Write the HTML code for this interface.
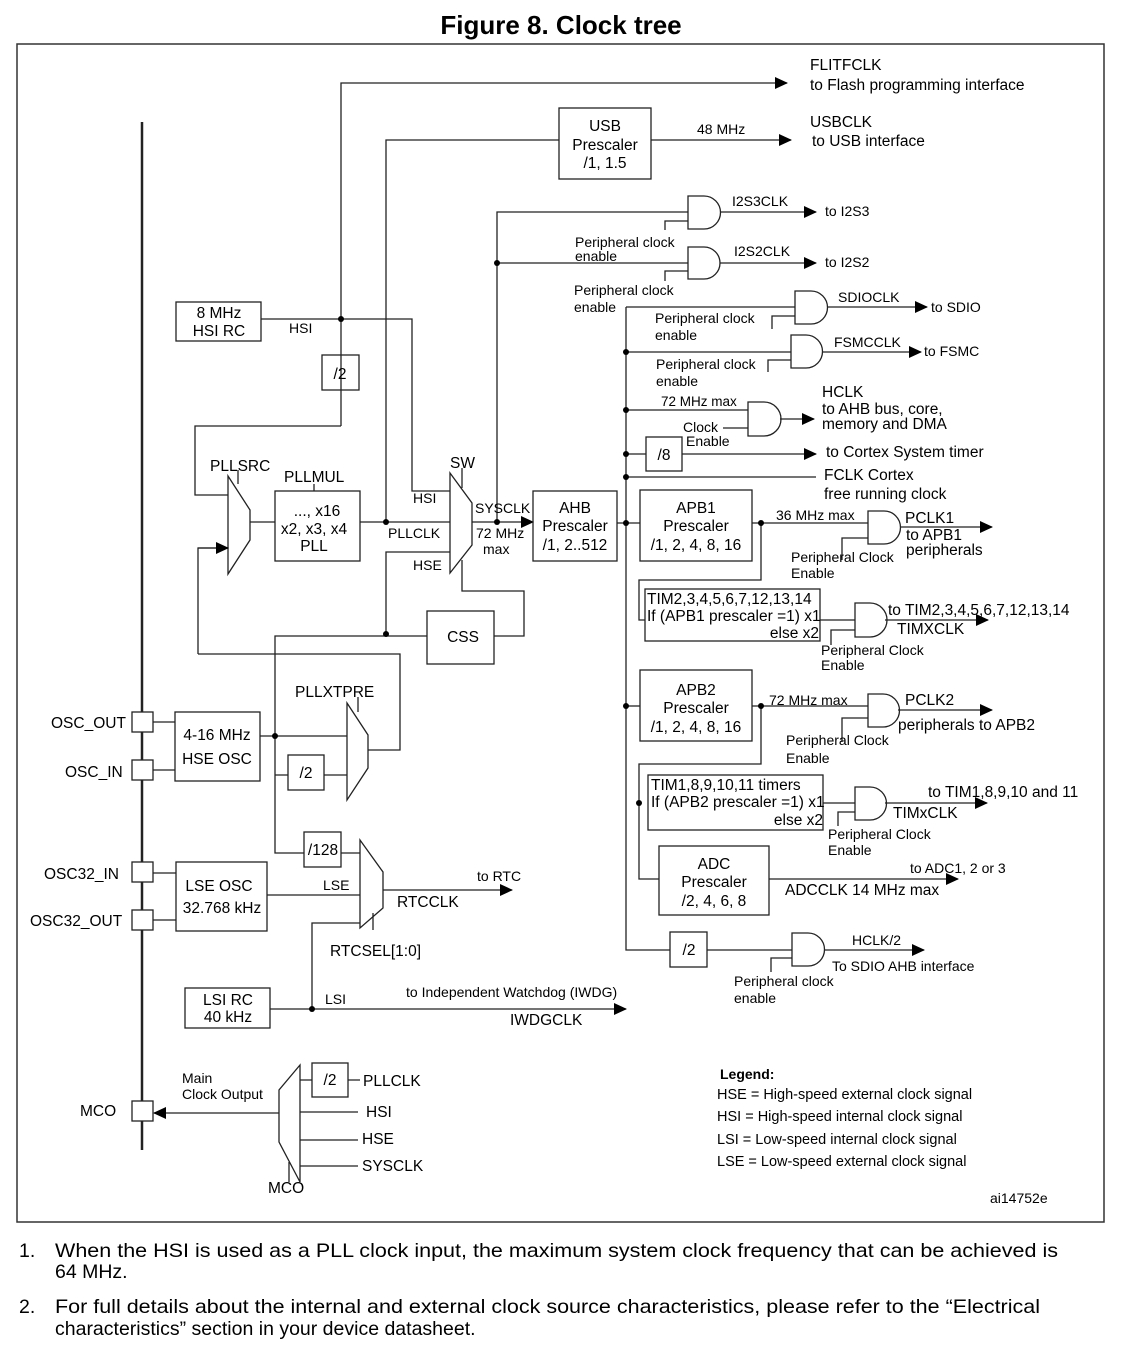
<!DOCTYPE html>
<html><head><meta charset="utf-8"><style>
html,body{margin:0;padding:0;background:#fff;}
svg{display:block;font-family:"Liberation Sans",Arial,sans-serif;}
</style></head><body>
<svg width="1127" height="1350" viewBox="0 0 1127 1350" xmlns="http://www.w3.org/2000/svg">
<defs>
<marker id="a" markerUnits="userSpaceOnUse" markerWidth="14" markerHeight="12" refX="12" refY="6" orient="auto"><path d="M0,0 L13,6 L0,12 Z" fill="#000"/></marker>
</defs>
<text x="561" y="34" font-size="26" font-weight="bold" text-anchor="middle">Figure 8. Clock tree</text>
<rect x="17" y="44" width="1087" height="1178" fill="none" stroke="#333" stroke-width="1.5"/>

<g fill="none" stroke="#222" stroke-width="1.3">
<line x1="142" y1="122" x2="142" y2="1150" stroke-width="2.5"/>
<rect x="132" y="712" width="21" height="20" fill="#fff"/>
<rect x="132" y="760" width="21" height="20" fill="#fff"/>
<rect x="132" y="862" width="21" height="20" fill="#fff"/>
<rect x="132" y="910" width="21" height="20" fill="#fff"/>
<rect x="132" y="1101" width="21" height="20" fill="#fff"/>
<path d="M153,722H175 M153,770H175 M153,873H176 M153,920H176"/>

<path d="M341,426V83H787" marker-end="url(#a)"/>
<path d="M341,426H195V495H228"/>
<rect x="322" y="355" width="37" height="35"/>
<rect x="176" y="302" width="85" height="39"/>
<path d="M261,319H412V491H450"/>
<path d="M386,634V552H450"/>
<path d="M386,522V140H559"/>
<rect x="559" y="108" width="92" height="71"/>
<path d="M651,140H791" marker-end="url(#a)"/>
<polygon points="228,476 250,510 250,540 228,574" fill="#fff"/>
<path d="M238,470V484"/>
<path d="M250,522H275"/>
<path d="M198,654H400V750H368 M198,654V548H228" />
<path d="M198,548H228" marker-end="url(#a)"/>
<rect x="275" y="491" width="85" height="70"/>
<path d="M314,484V491"/>
<path d="M360,522H450"/>
<polygon points="450,473 472,503 472,545 450,573" fill="#fff"/>
<path d="M462,468V488"/>
<path d="M462,560V591H524V636H494"/>
<rect x="427" y="611" width="67" height="53"/>
<path d="M427,636H275V853H304"/>
<path d="M472,522H533" marker-end="url(#a)"/>
<path d="M497,522V212H688 M497,263H688"/>
<rect x="533" y="491" width="84" height="70"/>
<path d="M617,523H640"/>
<path d="M626,307V950H670"/>
<path d="M626,307H795 M626,352H791 M626,410H748 M626,454H646 M626,477H816"/>
<path d="M682,454H816" marker-end="url(#a)"/>
<rect x="646" y="437" width="36" height="34"/>
<path d="M688,196H704A16.5,16.5 0 0 1 704,229H688Z"/>
<path d="M665,230V221H688"/>
<path d="M720,212H816" marker-end="url(#a)"/>
<path d="M688,247H704A16,16 0 0 1 704,279H688Z"/>
<path d="M665,281V271H688"/>
<path d="M720,263H816" marker-end="url(#a)"/>
<path d="M795,291H811A16.5,16.5 0 0 1 811,324H795Z"/>
<path d="M772,329V316H795"/>
<path d="M827,307H927" marker-end="url(#a)"/>
<path d="M791,335H806A16.5,16.5 0 0 1 806,368H791Z"/>
<path d="M768,372V360H791"/>
<path d="M822,352H921" marker-end="url(#a)"/>
<path d="M748,402H764A17,17 0 0 1 764,436H748Z"/>
<path d="M723,428H748"/>
<path d="M780,419H814" marker-end="url(#a)"/>
<rect x="640" y="490" width="112" height="71"/>
<path d="M752,523H868 M761,523V580H639V620H645"/>
<path d="M868,511H884A16.5,16.5 0 0 1 884,544H868Z"/>
<path d="M842,560V538H868"/>
<path d="M900,527H992" marker-end="url(#a)"/>
<rect x="645" y="589" width="175" height="52"/>
<path d="M820,620H855"/>
<path d="M855,603H870A17,17 0 0 1 870,637H855Z"/>
<path d="M831,645V630H855"/>
<path d="M885,620H988" marker-end="url(#a)"/>
<path d="M626,706H640"/>
<rect x="640" y="670" width="112" height="71"/>
<path d="M752,706H868 M761,706V764H639V879H659"/>
<path d="M868,694H883A16.5,16.5 0 0 1 883,727H868Z"/>
<path d="M842,742V718H868"/>
<path d="M898,710H992" marker-end="url(#a)"/>
<rect x="648" y="775" width="175" height="55"/>
<path d="M823,803H855"/>
<path d="M855,787H870A16.5,16.5 0 0 1 870,820H855Z"/>
<path d="M838,826V812H855"/>
<path d="M885,803H987" marker-end="url(#a)"/>
<rect x="659" y="846" width="110" height="69"/>
<path d="M769,879H958" marker-end="url(#a)"/>
<rect x="670" y="932" width="37" height="35"/>
<path d="M707,950H792"/>
<path d="M792,933H808A16.5,16.5 0 0 1 808,966H792Z"/>
<path d="M771,972V958H792"/>
<path d="M824,950H924" marker-end="url(#a)"/>
<rect x="175" y="712" width="85" height="69"/>
<path d="M260,736H347 M275,775H288 M324,775H347"/>
<rect x="288" y="755" width="36" height="35"/>
<polygon points="347,703 368,735 368,768 347,800" fill="#fff"/>
<path d="M358,697V712"/>
<rect x="304" y="832" width="37" height="35"/>
<path d="M341,853H360"/>
<rect x="176" y="862" width="91" height="69"/>
<path d="M267,895H360"/>
<polygon points="360,840 383,872 383,908 360,928" fill="#fff"/>
<path d="M373,913V930"/>
<path d="M383,890H512" marker-end="url(#a)"/>
<rect x="185" y="988" width="85" height="40"/>
<path d="M270,1009H626" marker-end="url(#a)"/>
<path d="M312,1009V923H360"/>
<polygon points="300,1065 300,1182 279,1142 279,1090" fill="#fff"/>
<path d="M279,1113H154" marker-end="url(#a)"/>
<rect x="312" y="1063" width="36" height="34"/>
<path d="M300,1080H312 M348,1080H360 M300,1112H358 M300,1140H358 M300,1166H358 M289,1162V1182"/>
</g>
<g fill="#000">
<circle cx="341" cy="319" r="3"/><circle cx="386" cy="522" r="3"/><circle cx="497" cy="522" r="3"/>
<circle cx="497" cy="263" r="3"/><circle cx="386" cy="634" r="3"/><circle cx="626" cy="523" r="3"/>
<circle cx="626" cy="352" r="3"/><circle cx="626" cy="410" r="3"/><circle cx="626" cy="454" r="3"/>
<circle cx="626" cy="477" r="3"/><circle cx="626" cy="706" r="3"/><circle cx="761" cy="523" r="3"/>
<circle cx="761" cy="706" r="3"/><circle cx="639" cy="803" r="3"/><circle cx="275" cy="736" r="3"/>
<circle cx="312" cy="1009" r="3"/>
</g>

<g font-size="15.5" fill="#000">
<text x="810" y="70">FLITFCLK</text>
<text x="810" y="90">to Flash programming interface</text>
<text x="605" y="131" text-anchor="middle">USB</text>
<text x="605" y="150" text-anchor="middle">Prescaler</text>
<text x="605" y="168" text-anchor="middle">/1, 1.5</text>
<text x="697" y="134" font-size="14">48 MHz</text>
<text x="810" y="127">USBCLK</text>
<text x="812" y="146">to USB interface</text>
<text x="732" y="206" font-size="14">I2S3CLK</text>
<text x="825" y="216" font-size="14">to I2S3</text>
<text x="575" y="247" font-size="14">Peripheral clock</text>
<text x="575" y="261" font-size="14">enable</text>
<text x="734" y="256" font-size="14">I2S2CLK</text>
<text x="825" y="267" font-size="14">to I2S2</text>
<text x="574" y="295" font-size="14">Peripheral clock</text>
<text x="574" y="312" font-size="14">enable</text>
<text x="838" y="302" font-size="14">SDIOCLK</text>
<text x="931" y="312" font-size="14">to SDIO</text>
<text x="655" y="323" font-size="14">Peripheral clock</text>
<text x="655" y="340" font-size="14">enable</text>
<text x="834" y="347" font-size="14">FSMCCLK</text>
<text x="924" y="356" font-size="14">to FSMC</text>
<text x="656" y="369" font-size="14">Peripheral clock</text>
<text x="656" y="386" font-size="14">enable</text>
<text x="661" y="406" font-size="13.5">72 MHz max</text>
<text x="822" y="397">HCLK</text>
<text x="822" y="414">to AHB bus, core,</text>
<text x="822" y="429">memory and DMA</text>
<text x="683" y="432" font-size="14">Clock</text>
<text x="686" y="446" font-size="14">Enable</text>
<text x="664" y="460" text-anchor="middle">/8</text>
<text x="826" y="457">to Cortex System timer</text>
<text x="824" y="480">FCLK Cortex</text>
<text x="824" y="499">free running clock</text>
<text x="219" y="318" text-anchor="middle">8 MHz</text>
<text x="219" y="336" text-anchor="middle">HSI RC</text>
<text x="289" y="333" font-size="14">HSI</text>
<text x="340" y="379" text-anchor="middle">/2</text>
<text x="210" y="471">PLLSRC</text>
<text x="284" y="482">PLLMUL</text>
<text x="317" y="516" text-anchor="middle">..., x16</text>
<text x="314" y="534" text-anchor="middle">x2, x3, x4</text>
<text x="314" y="551" text-anchor="middle">PLL</text>
<text x="388" y="538" font-size="14">PLLCLK</text>
<text x="450" y="468">SW</text>
<text x="413" y="503" font-size="14">HSI</text>
<text x="413" y="570" font-size="14">HSE</text>
<text x="475" y="513" font-size="14">SYSCLK</text>
<text x="476" y="538" font-size="14">72 MHz</text>
<text x="483" y="554" font-size="14">max</text>
<text x="575" y="513" text-anchor="middle">AHB</text>
<text x="575" y="531" text-anchor="middle">Prescaler</text>
<text x="575" y="550" text-anchor="middle">/1, 2..512</text>
<text x="696" y="513" text-anchor="middle">APB1</text>
<text x="696" y="531" text-anchor="middle">Prescaler</text>
<text x="696" y="550" text-anchor="middle">/1, 2, 4, 8, 16</text>
<text x="776" y="520" font-size="14">36 MHz max</text>
<text x="905" y="523">PCLK1</text>
<text x="906" y="540">to APB1</text>
<text x="906" y="555">peripherals</text>
<text x="791" y="562" font-size="14">Peripheral Clock</text>
<text x="791" y="578" font-size="14">Enable</text>
<text x="647" y="604">TIM2,3,4,5,6,7,12,13,14</text>
<text x="647" y="621">If (APB1 prescaler =1) x1</text>
<text x="819" y="638" text-anchor="end">else  x2</text>
<text x="888" y="615">to TIM2,3,4,5,6,7,12,13,14</text>
<text x="897" y="634">TIMXCLK</text>
<text x="821" y="655" font-size="14">Peripheral Clock</text>
<text x="821" y="670" font-size="14">Enable</text>
<text x="463" y="642" text-anchor="middle">CSS</text>
<text x="696" y="695" text-anchor="middle">APB2</text>
<text x="696" y="713" text-anchor="middle">Prescaler</text>
<text x="696" y="732" text-anchor="middle">/1, 2, 4, 8, 16</text>
<text x="769" y="705" font-size="14">72 MHz max</text>
<text x="905" y="705">PCLK2</text>
<text x="898" y="730">peripherals to APB2</text>
<text x="786" y="745" font-size="14">Peripheral Clock</text>
<text x="786" y="763" font-size="14">Enable</text>
<text x="651" y="790">TIM1,8,9,10,11 timers</text>
<text x="651" y="807">If (APB2 prescaler =1) x1</text>
<text x="823" y="825" text-anchor="end">else x2</text>
<text x="928" y="797">to TIM1,8,9,10 and 11</text>
<text x="893" y="818">TIMxCLK</text>
<text x="828" y="839" font-size="14">Peripheral Clock</text>
<text x="828" y="855" font-size="14">Enable</text>
<text x="714" y="869" text-anchor="middle">ADC</text>
<text x="714" y="887" text-anchor="middle">Prescaler</text>
<text x="714" y="906" text-anchor="middle">/2, 4, 6, 8</text>
<text x="910" y="873" font-size="14">to ADC1, 2 or 3</text>
<text x="785" y="895">ADCCLK 14 MHz max</text>
<text x="689" y="955" text-anchor="middle">/2</text>
<text x="852" y="945" font-size="14">HCLK/2</text>
<text x="832" y="971" font-size="14">To SDIO AHB interface</text>
<text x="734" y="986" font-size="14">Peripheral clock</text>
<text x="734" y="1003" font-size="14">enable</text>
<text x="295" y="697">PLLXTPRE</text>
<text x="51" y="728">OSC_OUT</text>
<text x="65" y="777">OSC_IN</text>
<text x="217" y="740" text-anchor="middle">4-16 MHz</text>
<text x="217" y="764" text-anchor="middle">HSE OSC</text>
<text x="306" y="778" text-anchor="middle">/2</text>
<text x="323" y="855" text-anchor="middle">/128</text>
<text x="44" y="879">OSC32_IN</text>
<text x="30" y="926">OSC32_OUT</text>
<text x="219" y="891" text-anchor="middle">LSE OSC</text>
<text x="222" y="913" text-anchor="middle">32.768 kHz</text>
<text x="323" y="890" font-size="14">LSE</text>
<text x="477" y="881" font-size="14">to RTC</text>
<text x="397" y="907">RTCCLK</text>
<text x="330" y="956">RTCSEL[1:0]</text>
<text x="228" y="1005" text-anchor="middle">LSI RC</text>
<text x="228" y="1022" text-anchor="middle">40 kHz</text>
<text x="325" y="1004" font-size="14">LSI</text>
<text x="406" y="997" font-size="14">to Independent Watchdog (IWDG)</text>
<text x="510" y="1025">IWDGCLK</text>
<text x="182" y="1083" font-size="14">Main</text>
<text x="182" y="1099" font-size="14">Clock Output</text>
<text x="80" y="1116">MCO</text>
<text x="330" y="1085" text-anchor="middle">/2</text>
<text x="363" y="1086">PLLCLK</text>
<text x="366" y="1117">HSI</text>
<text x="362" y="1144">HSE</text>
<text x="362" y="1171">SYSCLK</text>
<text x="268" y="1193">MCO</text>
<text x="720" y="1079" font-size="14" font-weight="bold">Legend:</text>
<text x="717" y="1099" font-size="14.5">HSE = High-speed external clock signal</text>
<text x="717" y="1121" font-size="14.5">HSI = High-speed internal clock signal</text>
<text x="717" y="1144" font-size="14.5">LSI = Low-speed internal clock signal</text>
<text x="717" y="1166" font-size="14.5">LSE = Low-speed external clock signal</text>
<text x="990" y="1203" font-size="14">ai14752e</text>
</g>
<g font-size="19.5" fill="#000">
<text x="19" y="1257">1.</text>
<text x="55" y="1257" textLength="1003" lengthAdjust="spacingAndGlyphs">When the HSI is used as a PLL clock input, the maximum system clock frequency that can be achieved is</text>
<text x="55" y="1278">64 MHz.</text>
<text x="19" y="1313">2.</text>
<text x="55" y="1313" textLength="985" lengthAdjust="spacingAndGlyphs">For full details about the internal and external clock source characteristics, please refer to the “Electrical</text>
<text x="55" y="1335">characteristics” section in your device datasheet.</text>
</g>
</svg>
</body></html>
